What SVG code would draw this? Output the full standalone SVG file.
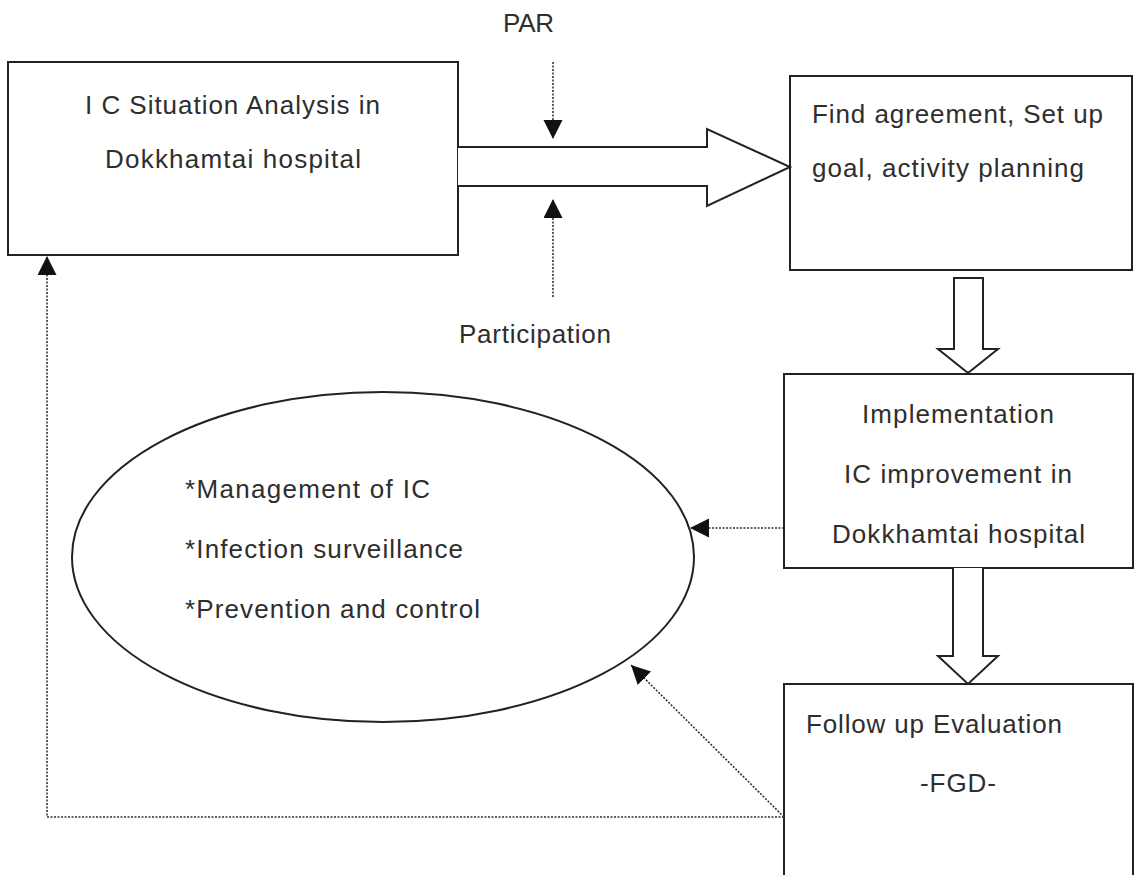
<svg xmlns="http://www.w3.org/2000/svg" width="1136" height="875" viewBox="0 0 1136 875">
<defs>
<style>
.box{fill:#fff;stroke:#222;stroke-width:2}
.big{fill:#fff;stroke:#222;stroke-width:2;stroke-linejoin:miter}
.dot{fill:none;stroke:#333;stroke-width:1.6;stroke-dasharray:2 1.5}
text{font-family:"Liberation Sans",Arial,Helvetica,sans-serif;font-size:26px;fill:#2e2e2e}
</style>
<marker id="ah" markerUnits="userSpaceOnUse" markerWidth="20" markerHeight="20" refX="19" refY="9.5" orient="auto" viewBox="0 0 20 20">
<path d="M0,0 L19,9.5 L0,19 Z" fill="#111"/>
</marker>
</defs>
<rect width="1136" height="875" fill="#fff"/>

<g id="labels">
<text x="503" y="32" textLength="51" lengthAdjust="spacing">PAR</text>
<text x="459" y="343" textLength="152" lengthAdjust="spacing">Participation</text>
</g>

<g id="node-situation">
<rect class="box" x="8" y="62" width="450" height="193"/>
<text x="85" y="114" textLength="295" lengthAdjust="spacing">I C Situation Analysis in</text>
<text x="105" y="168" textLength="256" lengthAdjust="spacing">Dokkhamtai hospital</text>
</g>

<g id="node-agreement">
<rect class="box" x="790" y="76" width="342" height="194"/>
<text x="812" y="123" textLength="291" lengthAdjust="spacing">Find agreement, Set up</text>
<text x="812" y="177" textLength="272" lengthAdjust="spacing">goal, activity planning</text>
</g>

<g id="node-implementation">
<rect class="box" x="784" y="374" width="349" height="194"/>
<text x="862" y="423" textLength="192" lengthAdjust="spacing">Implementation</text>
<text x="844" y="483" textLength="228" lengthAdjust="spacing">IC improvement in</text>
<text x="832" y="543" textLength="253" lengthAdjust="spacing">Dokkhamtai hospital</text>
</g>

<g id="node-followup">
<path class="box" d="M784,880 V684 H1133 V880"/>
<text x="806" y="733" textLength="256" lengthAdjust="spacing">Follow up Evaluation</text>
<text x="920" y="792" textLength="76" lengthAdjust="spacing">-FGD-</text>
</g>

<g id="node-components">
<ellipse class="box" cx="383" cy="557" rx="311" ry="165"/>
<text x="185" y="498" textLength="245" lengthAdjust="spacing">*Management of IC</text>
<text x="185" y="558" textLength="278" lengthAdjust="spacing">*Infection surveillance</text>
<text x="185" y="618" textLength="295" lengthAdjust="spacing">*Prevention and control</text>
</g>

<g id="connectors">
<path class="big" d="M458,147 H707 V129 L790,167 L707,206 V186 H458"/>
<path class="big" d="M954,278 V349 H938 L968,373 L998,349 H983 V278 Z"/>
<path class="big" d="M953,568 V656 H938 L968,684 L998,656 H983 V568"/>
<line class="dot" x1="553" y1="62" x2="553" y2="139" marker-end="url(#ah)"/>
<line class="dot" x1="553" y1="297" x2="553" y2="199" marker-end="url(#ah)"/>
<line class="dot" x1="784" y1="528" x2="690" y2="528" marker-end="url(#ah)"/>
<line class="dot" x1="784" y1="817" x2="631" y2="665" marker-end="url(#ah)"/>
<polyline class="dot" points="784,817 47,817 47,256" marker-end="url(#ah)"/>
</g>
</svg>
